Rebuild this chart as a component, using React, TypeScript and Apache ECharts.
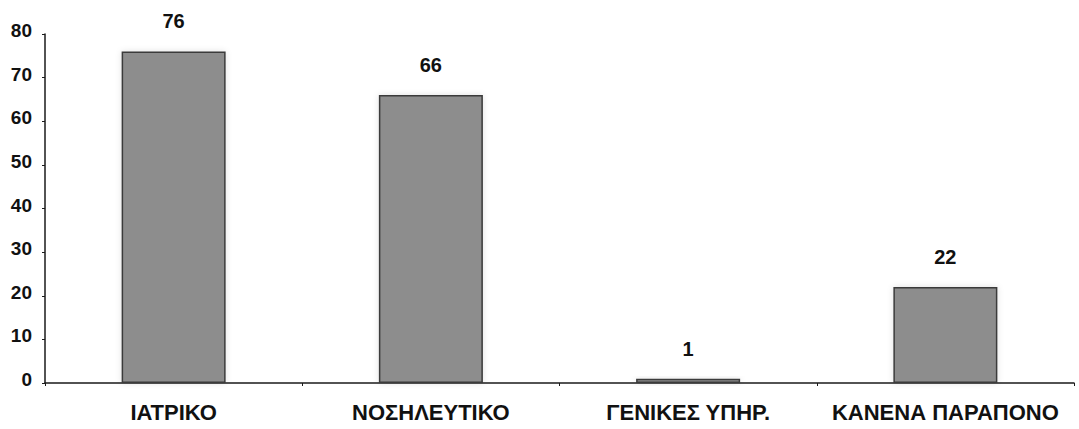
import React, { useEffect, useRef } from "react";
import * as echarts from "echarts";

const categories = ["ΙΑΤΡΙΚΟ", "ΝΟΣΗΛΕΥΤΙΚΟ", "ΓΕΝΙΚΕΣ ΥΠΗΡ.", "ΚΑΝΕΝΑ ΠΑΡΑΠΟΝΟ"];
const complaints = [76, 66, 1, 22];
const yMin = 0;
const yMax = 80;
const yStep = 10;

const FONT = "'Liberation Sans', Arial, sans-serif";

export default function App() {
  const ref = useRef<HTMLDivElement>(null);

  useEffect(() => {
    if (!ref.current) return;
    const chart = echarts.init(ref.current, undefined, { renderer: "svg" });
    chart.setOption({
      animation: false,
      backgroundColor: "#ffffff",
      grid: { left: 45, right: 5, top: 34, bottom: 46, containLabel: false },
      xAxis: {
        type: "category",
        data: categories,
        axisLine: { lineStyle: { color: "#1a1a1a", width: 1.5 } },
        axisTick: { show: true, inside: false, length: 3, lineStyle: { color: "#1a1a1a" } },
        axisLabel: {
          interval: 0,
          margin: 18,
          color: "#111",
          fontFamily: FONT,
          fontWeight: "bold",
          fontSize: 22,
        },
      },
      yAxis: {
        type: "value",
        min: yMin,
        max: yMax,
        interval: yStep,
        splitLine: { show: false },
        axisLine: { show: true, lineStyle: { color: "#1a1a1a", width: 1.5 } },
        axisTick: { show: true, length: 3, lineStyle: { color: "#1a1a1a" } },
        axisLabel: {
          margin: 13,
          color: "#111",
          fontFamily: FONT,
          fontWeight: "bold",
          fontSize: 19,
          verticalAlign: "bottom",
          lineHeight: 7,
        },
      },
      series: [
        {
          type: "bar",
          data: complaints,
          barWidth: 104,
          itemStyle: {
            color: "#8d8d8d",
            borderColor: "#3a3a3a",
            borderWidth: 1.5,
            shadowColor: "rgba(0,0,0,0.12)",
            shadowBlur: 6,
          },
          label: {
            show: true,
            position: "top",
            distance: 20,
            color: "#111",
            fontFamily: FONT,
            fontWeight: "bold",
            fontSize: 20,
          },
        },
      ],
    });
    return () => chart.dispose();
  }, []);

  return <div ref={ref} style={{ width: 1079, height: 429, position: "absolute", left: 0, top: 0 }} />;
}
